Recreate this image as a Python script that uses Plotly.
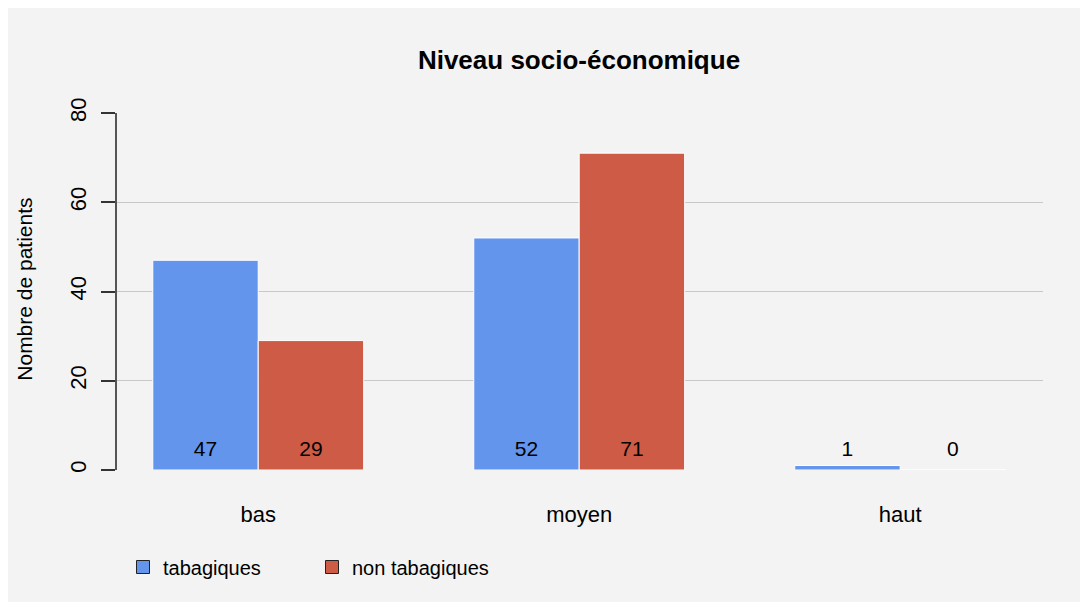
import plotly.graph_objects as go

# data
categories = ["bas", "moyen", "haut"]
tabagiques = [47, 52, 1]
non_tabagiques = [29, 71, 0]
series_names = ["tabagiques", "non tabagiques"]
y_ticks = [0, 20, 40, 60, 80]

BLUE = "#6495ED"
RED = "#CD5B45"
BG = "#F3F3F3"
FONT = "Liberation Sans, Arial, sans-serif"

# page has an 8px body margin, so the figure is a bit smaller than the window
W, H = 1080, 594
L, R, T, B = 109, 45, 105, 132
pw, ph = W - L - R, H - T - B

fig = go.Figure()

for name, vals, col, grp in [(series_names[0], tabagiques, BLUE, "a"),
                             (series_names[1], non_tabagiques, RED, "b")]:
    fig.add_trace(go.Bar(
        x=categories, y=vals, name=name, offsetgroup=grp,
        marker=dict(color=col, line=dict(color="white", width=1)),
        showlegend=False, hoverinfo="x+y"))
    # value labels near the base of each bar
    fig.add_trace(go.Scatter(
        x=categories, y=[4.3] * len(vals), offsetgroup=grp,
        mode="text", text=[str(v) for v in vals],
        textfont=dict(size=21, color="black", family=FONT),
        showlegend=False, hoverinfo="skip"))
    # legend entry with black-outlined square
    fig.add_trace(go.Scatter(
        x=[None], y=[None], mode="markers", name=name,
        marker=dict(symbol="square", size=13, color=col,
                    line=dict(color="#222", width=1))))

fig.add_annotation(
    text="Nombre de patients", textangle=-90, showarrow=False,
    xref="paper", yref="paper", x=(17 - L) / pw, y=0.505,
    xanchor="center", yanchor="middle",
    font=dict(size=21, color="black", family=FONT))

fig.update_layout(
    width=W, height=H,
    margin=dict(l=L, r=R, t=T, b=B, autoexpand=False),
    paper_bgcolor=BG, plot_bgcolor=BG,
    barmode="group", scattermode="group", bargap=0.343, bargroupgap=0,
    font=dict(family=FONT, color="black", size=20),
    title=dict(text="<b>Niveau socio-économique</b>", x=571 / W, xanchor="center",
               y=1 - 52 / H, yanchor="middle", font=dict(size=26)),
    legend=dict(orientation="h", x=(115 - L) / pw, xanchor="left",
                y=(462 - 559) / ph, yanchor="middle", font=dict(size=20),
                itemwidth=30, entrywidth=144, entrywidthmode="pixels",
                bgcolor="rgba(0,0,0,0)", traceorder="normal"),
    xaxis=dict(range=[-0.44, 2.445], showgrid=False, zeroline=False,
               showline=False, ticks="", ticklabelstandoff=29,
               tickfont=dict(size=22)),
    yaxis=dict(range=[0, 80], tickvals=y_ticks, showgrid=True,
               gridcolor="#C8C8C8", gridwidth=1, zeroline=False,
               showline=True, linecolor="#555", linewidth=1.5,
               ticks="outside", ticklen=14, tickcolor="#333", tickwidth=1.5,
               ticklabelstandoff=6, tickangle=-90, tickfont=dict(size=22)),
)

fig.write_html("out.html")
